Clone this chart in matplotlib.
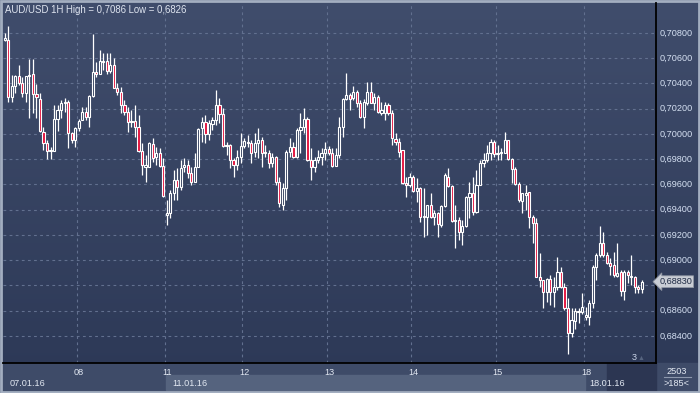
import numpy as np
import matplotlib.pyplot as plt
from matplotlib.colors import LinearSegmentedColormap
from matplotlib.patches import Rectangle
from matplotlib.transforms import blended_transform_factory

plt.rcParams['font.family'] = ['Liberation Sans', 'DejaVu Sans']

# AUD/USD hourly candles, 07.01.16 - 18.01.16
opens = [0.70744, 0.70744, 0.70293, 0.70380, 0.70459, 0.70404, 0.70324, 0.70459, 0.70475, 0.70317,
         0.70277, 0.70016, 0.69928, 0.69865, 0.69865, 0.70119, 0.70190, 0.70245, 0.70253, 0.70008,
         0.69952, 0.70047, 0.70111, 0.70174, 0.70134, 0.70301, 0.70491, 0.70475, 0.70570, 0.70578,
         0.70499, 0.70546, 0.70364, 0.70332, 0.70229, 0.70174, 0.70095, 0.70103, 0.70055, 0.69865,
         0.69738, 0.69738, 0.69921, 0.69818, 0.69849, 0.69746, 0.69358, 0.69374, 0.69532, 0.69635,
         0.69580, 0.69738, 0.69754, 0.69691, 0.69620, 0.69738, 0.70047, 0.70095, 0.70000, 0.70079,
         0.70111, 0.70229, 0.70158, 0.69905, 0.69913, 0.69794, 0.69754, 0.69818, 0.69905, 0.69936,
         0.69928, 0.69857, 0.69928, 0.69952, 0.69849, 0.69849, 0.69770, 0.69818, 0.69620, 0.69437,
         0.69572, 0.69857, 0.69897, 0.69818, 0.70031, 0.70055, 0.70119, 0.69794, 0.69738, 0.69794,
         0.69818, 0.69849, 0.69881, 0.69849, 0.69746, 0.69833, 0.70055, 0.70277, 0.70309, 0.70285,
         0.70332, 0.70245, 0.70134, 0.70245, 0.70332, 0.70245, 0.70293, 0.70166, 0.70166, 0.70229,
         0.70166, 0.69960, 0.69936, 0.69873, 0.69612, 0.69596, 0.69659, 0.69548, 0.69572, 0.69342,
         0.69342, 0.69437, 0.69342, 0.69374, 0.69279, 0.69429, 0.69659, 0.69588, 0.69311, 0.69319,
         0.69224, 0.69271, 0.69501, 0.69532, 0.69382, 0.69596, 0.69770, 0.69794, 0.69849, 0.69936,
         0.69841, 0.69849, 0.69849, 0.69952, 0.69802, 0.69723, 0.69604, 0.69469, 0.69517, 0.69540,
         0.69342, 0.69295, 0.68867, 0.68843, 0.68748, 0.68851, 0.68748, 0.68788, 0.68907, 0.68788,
         0.68622, 0.68424, 0.68519, 0.68590, 0.68590, 0.68550, 0.68550, 0.68661, 0.68946, 0.69041,
         0.69136, 0.69041, 0.68978, 0.68962, 0.68875, 0.68907, 0.68756, 0.68907, 0.68867, 0.68867,
         0.68788, 0.68772]
highs = [0.70800, 0.70855, 0.70467, 0.70467, 0.70546, 0.70451, 0.70459, 0.70594, 0.70594, 0.70396,
         0.70324, 0.70055, 0.69952, 0.69897, 0.70229, 0.70229, 0.70269, 0.70285, 0.70269, 0.70016,
         0.70055, 0.70119, 0.70214, 0.70214, 0.70309, 0.70792, 0.70570, 0.70665, 0.70641, 0.70641,
         0.70641, 0.70602, 0.70404, 0.70372, 0.70269, 0.70214, 0.70190, 0.70229, 0.70150, 0.69928,
         0.69833, 0.69936, 0.69968, 0.69897, 0.69889, 0.69810, 0.69477, 0.69556, 0.69715, 0.69730,
         0.69794, 0.69810, 0.69794, 0.69738, 0.69849, 0.70047, 0.70134, 0.70150, 0.70111, 0.70134,
         0.70348, 0.70285, 0.70206, 0.69936, 0.69921, 0.69810, 0.69873, 0.70008, 0.69968, 0.69992,
         0.69952, 0.70008, 0.70047, 0.69976, 0.69913, 0.69873, 0.69849, 0.69825, 0.69659, 0.69612,
         0.69873, 0.69968, 0.69936, 0.70047, 0.70166, 0.70206, 0.70134, 0.69889, 0.69818, 0.69873,
         0.69889, 0.69936, 0.69905, 0.69889, 0.69889, 0.70134, 0.70285, 0.70483, 0.70324, 0.70380,
         0.70348, 0.70269, 0.70277, 0.70412, 0.70412, 0.70324, 0.70309, 0.70253, 0.70253, 0.70245,
         0.70190, 0.70008, 0.69968, 0.69873, 0.69659, 0.69691, 0.69675, 0.69651, 0.69580, 0.69572,
         0.69437, 0.69532, 0.69398, 0.69382, 0.69437, 0.69691, 0.69730, 0.69596, 0.69437, 0.69342,
         0.69319, 0.69509, 0.69620, 0.69659, 0.69715, 0.69794, 0.69849, 0.69913, 0.69960, 0.69952,
         0.69913, 0.69889, 0.70016, 0.69952, 0.69810, 0.69738, 0.69620, 0.69532, 0.69596, 0.69540,
         0.69358, 0.69334, 0.69057, 0.68843, 0.68859, 0.68883, 0.68867, 0.69026, 0.68946, 0.68820,
         0.68701, 0.68622, 0.68622, 0.68622, 0.68740, 0.68630, 0.68685, 0.68962, 0.69057, 0.69271,
         0.69224, 0.69065, 0.69018, 0.69065, 0.69136, 0.68923, 0.68923, 0.68923, 0.69041, 0.68875,
         0.68804, 0.68843]
lows = [0.70736, 0.70253, 0.70253, 0.70324, 0.70388, 0.70293, 0.70253, 0.70126, 0.70166, 0.70126,
        0.70016, 0.69873, 0.69802, 0.69802, 0.69865, 0.70023, 0.70126, 0.70174, 0.69889, 0.69928,
        0.69897, 0.70023, 0.70111, 0.70111, 0.70055, 0.70293, 0.70451, 0.70475, 0.70507, 0.70475,
        0.70483, 0.70364, 0.70309, 0.70166, 0.70150, 0.70016, 0.70055, 0.69976, 0.69857, 0.69675,
        0.69620, 0.69738, 0.69778, 0.69754, 0.69738, 0.69501, 0.69279, 0.69334, 0.69477, 0.69477,
        0.69556, 0.69699, 0.69651, 0.69596, 0.69620, 0.69738, 0.69936, 0.69928, 0.69952, 0.70031,
        0.70071, 0.70087, 0.69897, 0.69833, 0.69730, 0.69659, 0.69715, 0.69770, 0.69889, 0.69897,
        0.69770, 0.69818, 0.69810, 0.69738, 0.69818, 0.69730, 0.69738, 0.69596, 0.69422, 0.69398,
        0.69477, 0.69818, 0.69810, 0.69810, 0.69849, 0.70008, 0.69786, 0.69635, 0.69699, 0.69770,
        0.69754, 0.69794, 0.69833, 0.69738, 0.69746, 0.69810, 0.69976, 0.70269, 0.70190, 0.70269,
        0.70214, 0.70126, 0.70047, 0.70229, 0.70245, 0.70190, 0.70166, 0.70150, 0.70111, 0.70150,
        0.69913, 0.69913, 0.69818, 0.69604, 0.69501, 0.69580, 0.69540, 0.69461, 0.69303, 0.69184,
        0.69200, 0.69334, 0.69279, 0.69184, 0.69263, 0.69422, 0.69580, 0.69303, 0.69097, 0.69160,
        0.69121, 0.69263, 0.69334, 0.69358, 0.69374, 0.69596, 0.69738, 0.69778, 0.69794, 0.69818,
        0.69794, 0.69794, 0.69849, 0.69794, 0.69612, 0.69596, 0.69461, 0.69374, 0.69398, 0.69255,
        0.69136, 0.68867, 0.68788, 0.68622, 0.68669, 0.68645, 0.68630, 0.68764, 0.68780, 0.68606,
        0.68257, 0.68392, 0.68455, 0.68503, 0.68574, 0.68527, 0.68487, 0.68622, 0.68843, 0.69026,
        0.69026, 0.68970, 0.68883, 0.68867, 0.68867, 0.68717, 0.68685, 0.68820, 0.68804, 0.68740,
        0.68740, 0.68740]
closes = [0.70760, 0.70293, 0.70380, 0.70459, 0.70404, 0.70324, 0.70459, 0.70467, 0.70317, 0.70293,
          0.70023, 0.69928, 0.69865, 0.69873, 0.70119, 0.70190, 0.70245, 0.70253, 0.70008, 0.69952,
          0.70047, 0.70103, 0.70174, 0.70134, 0.70301, 0.70491, 0.70475, 0.70578, 0.70578, 0.70499,
          0.70546, 0.70364, 0.70332, 0.70229, 0.70174, 0.70095, 0.70103, 0.70055, 0.69865, 0.69754,
          0.69754, 0.69928, 0.69810, 0.69849, 0.69746, 0.69509, 0.69374, 0.69532, 0.69635, 0.69580,
          0.69730, 0.69754, 0.69691, 0.69620, 0.69738, 0.70039, 0.70095, 0.70000, 0.70087, 0.70111,
          0.70229, 0.70158, 0.69905, 0.69913, 0.69794, 0.69754, 0.69818, 0.69905, 0.69944, 0.69928,
          0.69849, 0.69928, 0.69952, 0.69849, 0.69857, 0.69770, 0.69818, 0.69620, 0.69453, 0.69572,
          0.69857, 0.69897, 0.69818, 0.70031, 0.70055, 0.70119, 0.69794, 0.69738, 0.69794, 0.69818,
          0.69849, 0.69881, 0.69849, 0.69746, 0.69833, 0.70055, 0.70277, 0.70309, 0.70277, 0.70332,
          0.70245, 0.70134, 0.70253, 0.70332, 0.70245, 0.70293, 0.70174, 0.70190, 0.70229, 0.70166,
          0.69968, 0.69936, 0.69857, 0.69612, 0.69596, 0.69659, 0.69548, 0.69572, 0.69342, 0.69350,
          0.69437, 0.69342, 0.69374, 0.69287, 0.69429, 0.69675, 0.69588, 0.69311, 0.69319, 0.69224,
          0.69271, 0.69501, 0.69532, 0.69382, 0.69596, 0.69770, 0.69794, 0.69849, 0.69936, 0.69841,
          0.69849, 0.69857, 0.69952, 0.69802, 0.69723, 0.69604, 0.69477, 0.69532, 0.69532, 0.69342,
          0.69295, 0.68867, 0.68843, 0.68748, 0.68851, 0.68748, 0.68788, 0.68907, 0.68788, 0.68622,
          0.68424, 0.68527, 0.68598, 0.68598, 0.68630, 0.68566, 0.68661, 0.68946, 0.69041, 0.69136,
          0.69041, 0.68978, 0.68954, 0.68883, 0.68899, 0.68756, 0.68907, 0.68883, 0.68875, 0.68788,
          0.68772, 0.68828]

day_labels = ['08', '11', '12', '13', '14', '15', '18']
day_pos = [20.5, 45.5, 67.5, 91.5, 115.5, 139.5, 164.5]
date_labels = ['07.01.16', '11.01.16', '18.01.16']
date_pos = [1.5, 47.5, 166.0]
price_ticks = [0.684, 0.686, 0.688, 0.690, 0.692, 0.694, 0.696, 0.698, 0.700, 0.702, 0.704, 0.706, 0.708]
last_price = 0.68830

W, H = 700, 393
fig = plt.figure(figsize=(7.0, 3.93), dpi=100)

bg = fig.add_axes([0, 0, 1, 1])
bg.axis('off')
cmap = LinearSegmentedColormap.from_list('bg', ['#404d6c', '#2c3856'])
bg.imshow(np.linspace(0, 1, 256).reshape(-1, 1), aspect='auto', cmap=cmap, extent=[0, 1, 0, 1])
bg.set_xlim(0, 1)
bg.set_ylim(0, 1)

# bottom date bar
bg.add_patch(Rectangle((3 / W, 2 / H), 653 / W, 28 / H, color='#3e4b68', zorder=2))
bg.add_patch(Rectangle((166 / W, 3 / H), 419 / W, 15 / H, color='#55637e', zorder=3))
bg.add_patch(Rectangle((607 / W, 2 / H), 49 / W, 28 / H, color='#2c3652', zorder=3))
bg.add_patch(Rectangle((657 / W, 2 / H), 41 / W, 28 / H, color='#3e4b68', zorder=2))
bg.plot([664 / W, 691 / W], [16 / H, 16 / H], color='#8d98ad', lw=0.8, zorder=4)
bg.add_patch(Rectangle((1 / W, 1 / H), 698 / W, 391 / H, fill=False, ec='#a3aec0', lw=2, zorder=5))

ax = fig.add_axes([3 / W, 30 / H, 653 / W, 360 / H])
ax.patch.set_alpha(0)
ax.set_xlim(-0.5, 185)
ax.set_ylim(0.68186, 0.71037)
ax.set_xticks([])
ax.set_yticks([])
for s in ['top', 'left']:
    ax.spines[s].set_visible(False)
for s in ['right', 'bottom']:
    ax.spines[s].set_color('black')
    ax.spines[s].set_linewidth(1.3)

for p in price_ticks:
    ax.axhline(p, color='#62708f', lw=0.8, ls=(0, (2.5, 3)), zorder=1)
for d in day_pos:
    ax.axvline(d, color='#62708f', lw=0.8, ls=(0, (2.5, 3)), zorder=1)

o = np.array(opens)
c = np.array(closes)
idx = np.arange(len(o))
ax.vlines(idx, lows, highs, color='white', lw=0.9, zorder=2)
cols = np.where(c >= o, '#33405e', '#e3133d')
ax.bar(idx, np.abs(c - o), bottom=np.minimum(o, c), width=0.62, color=cols,
       edgecolor='white', linewidth=0.8, zorder=3)

yt = blended_transform_factory(ax.transAxes, ax.transData)
for p in price_ticks:
    # the 0,68800 label sits under the last-price marker
    if abs(p - last_price) < 0.0008:
        continue
    ax.text(1.005, p, f'{p:.5f}'.replace('.', ','), transform=yt, ha='left', va='center',
            color='#d5e0f2', fontsize=6.6, clip_on=False)
ax.text(1.005, last_price, f'{last_price:.5f}'.replace('.', ','), transform=yt, ha='left', va='center',
        color='#1f2b45', fontsize=6.6, clip_on=False, zorder=6,
        bbox=dict(boxstyle='larrow,pad=0.15', fc='#c9cdd5', ec='#8f96a3', lw=0.6))

xt = blended_transform_factory(ax.transData, ax.transAxes)
for d, lab in zip(day_pos, day_labels):
    ax.text(d + 0.6, -0.027, lab, transform=xt, ha='center', va='center', color='#e2e8f2',
            fontsize=6.6, clip_on=False)
for d, lab in zip(date_pos, date_labels):
    ax.text(d, -0.058, lab, transform=xt, ha='left', va='center', color='#e2e8f2',
            fontsize=6.6, clip_on=False)

fig.text(5 / W, 1 - 10 / H, 'AUD/USD 1H High = 0,7086 Low = 0,6826', ha='left', va='center',
         color='#dfe5f0', fontsize=6.9)
fig.text(634 / W, 1 - 357 / H, '3', ha='center', va='center', color='#c9d4e8', fontsize=6.6)
fig.text(641 / W, 1 - 358 / H, '\u25b2', ha='center', va='center', color='#56647f', fontsize=5)
fig.text(677 / W, 1 - 371 / H, '2503', ha='center', va='center', color='#e2e8f2', fontsize=6.6)
fig.text(677 / W, 1 - 384 / H, '>185<', ha='center', va='center', color='#e2e8f2', fontsize=6.6)

fig.savefig('out.png', dpi=100)
